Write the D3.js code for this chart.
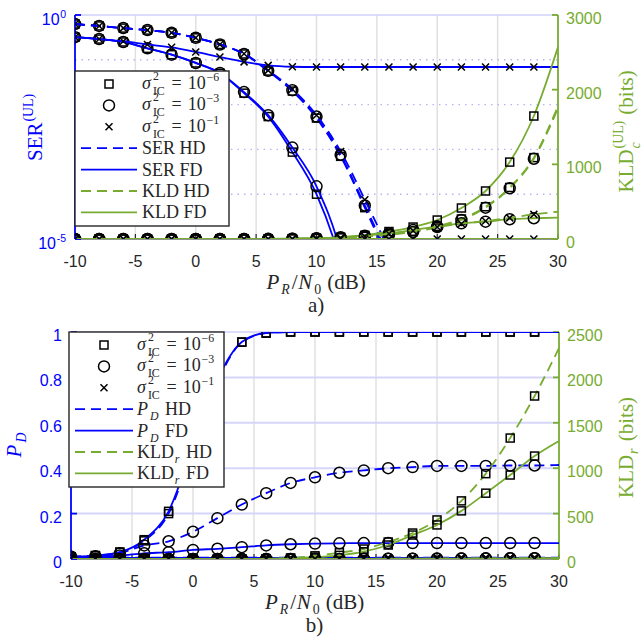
<!DOCTYPE html>
<html>
<head>
<meta charset="utf-8">
<script src="https://cdn.jsdelivr.net/npm/d3@7"></script>
<style>
  body { margin: 0; background: #fff; }
  svg { display: block; }
  text { white-space: pre; }
</style>
</head>
<body>
<svg id="chart" width="642" height="639"></svg>
<script>
// x positions (dB), markers on every point but the last
const snr = [-10, -8, -6, -4, -2, 0, 2, 4, 6, 8, 10, 12, 14, 16, 18, 20, 22, 24, 26, 28, 30];
const xTicks = [-10, -5, 0, 5, 10, 15, 20, 25, 30];

// a) uplink SER (left, log) for sigma_IC^2 = 1e-6 / 1e-3 / 1e-1
const serHD6 = [0.63, 0.57, 0.51, 0.46, 0.40, 0.31, 0.22, 0.135, 0.056, 0.020, 5.0e-3, 7.0e-4, 5.0e-5, 3.0e-6, 1e-7, 1e-8, 1e-8, 1e-8, 1e-8, 1e-8, 1e-8];
const serHD3 = [0.63, 0.57, 0.51, 0.46, 0.40, 0.31, 0.22, 0.135, 0.057, 0.021, 5.4e-3, 7.6e-4, 5.6e-5, 3.6e-6, 1e-7, 1e-8, 1e-8, 1e-8, 1e-8, 1e-8, 1e-8];
const serHD1 = [0.63, 0.57, 0.51, 0.46, 0.40, 0.31, 0.22, 0.137, 0.058, 0.022, 5.8e-3, 9.0e-4, 7.5e-5, 5.0e-6, 1e-7, 1e-8, 1e-8, 1e-8, 1e-8, 1e-8, 1e-8];
const serFD6 = [0.32, 0.29, 0.25, 0.18, 0.13, 0.085, 0.050, 0.018, 5.4e-3, 8.7e-4, 1.0e-4, 3.0e-6, 1e-8, 1e-8, 1e-8, 1e-8, 1e-8, 1e-8, 1e-8, 1e-8, 1e-8];
const serFD3 = [0.32, 0.29, 0.25, 0.18, 0.13, 0.085, 0.051, 0.019, 5.8e-3, 1.1e-3, 1.5e-4, 5.0e-6, 1e-8, 1e-8, 1e-8, 1e-8, 1e-8, 1e-8, 1e-8, 1e-8, 1e-8];
const serFD1 = [0.32, 0.29, 0.26, 0.22, 0.19, 0.15, 0.115, 0.090, 0.075, 0.070, 0.069, 0.069, 0.069, 0.069, 0.069, 0.069, 0.069, 0.069, 0.069, 0.069, 0.069];

// a) KLD_c (right, bits)
const kldHD6 = [0, 0, 0, 0, 0, 0, 0, 0, 0, 3, 8, 15, 35, 62, 100, 168, 268, 432, 690, 1090, 1780];
const kldHD3 = [0, 0, 0, 0, 0, 0, 0, 0, 0, 3, 7, 14, 32, 57, 94, 160, 255, 420, 680, 1075, 1750];
const kldHD1 = [0, 0, 0, 0, 0, 0, 0, 0, 0, 3, 8, 15, 35, 70, 110, 160, 205, 240, 283, 330, 365];
const kldFD6 = [0, 0, 0, 0, 0, 0, 0, 0, 2, 5, 10, 25, 50, 100, 160, 254, 415, 643, 1030, 1647, 2570];
const kldFD3 = [0, 0, 0, 0, 0, 0, 0, 0, 2, 5, 10, 22, 45, 75, 120, 170, 210, 232, 265, 278, 285];
const kldFD1 = [0, 0, 0, 0, 0, 0, 0, 0, 0, 0, 0, 0, 0, 0, 0, 0, 0, 0, 0, 0, 0];

// b) detection probability (left)
const pdHD6 = [0.010, 0.015, 0.030, 0.080, 0.20, 0.49, 0.78, 0.955, 0.995, 1, 1, 1, 1, 1, 1, 1, 1, 1, 1, 1, 1];
const pdFD6 = [0.010, 0.015, 0.030, 0.085, 0.21, 0.50, 0.79, 0.956, 0.996, 1, 1, 1, 1, 1, 1, 1, 1, 1, 1, 1, 1];
const pdHD3 = [0.010, 0.012, 0.025, 0.060, 0.078, 0.12, 0.18, 0.24, 0.29, 0.335, 0.36, 0.38, 0.39, 0.40, 0.405, 0.41, 0.41, 0.41, 0.412, 0.412, 0.414];
const pdFD3 = [0.010, 0.010, 0.015, 0.025, 0.030, 0.040, 0.045, 0.052, 0.060, 0.065, 0.068, 0.069, 0.070, 0.070, 0.070, 0.070, 0.070, 0.070, 0.070, 0.070, 0.070];
const pdHD1 = [0.006, 0.006, 0.006, 0.006, 0.006, 0.006, 0.006, 0.006, 0.006, 0.006, 0.006, 0.006, 0.006, 0.006, 0.006, 0.006, 0.006, 0.006, 0.006, 0.006, 0.006];
const pdFD1 = [0.005, 0.005, 0.005, 0.005, 0.005, 0.005, 0.005, 0.005, 0.005, 0.005, 0.005, 0.005, 0.005, 0.005, 0.005, 0.005, 0.005, 0.005, 0.005, 0.005, 0.005];

// b) KLD_r (right, bits)
const kldrHD6 = [0, 0, 0, 0, 0, 0, 0, 0, 3, 10, 35, 70, 110, 187, 286, 430, 640, 940, 1332, 1795, 2324];
const kldrFD6 = [0, 0, 0, 0, 0, 0, 0, 0, 3, 8, 20, 40, 80, 154, 264, 375, 530, 725, 925, 1134, 1300];
const kldrHD3 = [0, 0, 0, 0, 0, 0, 0, 0, 0, 0, 0, 0, 2, 3, 4, 5, 6, 7, 8, 9, 10];
const kldrFD3 = [0, 0, 0, 0, 0, 0, 0, 0, 0, 0, 0, 0, 1, 2, 3, 4, 5, 6, 7, 8, 9];
const kldrHD1 = [0, 0, 0, 0, 0, 0, 0, 0, 0, 0, 0, 0, 0, 0, 0, 0, 0, 0, 0, 0, 0];
const kldrFD1 = [0, 0, 0, 0, 0, 0, 0, 0, 0, 0, 0, 0, 0, 0, 0, 0, 0, 0, 0, 0, 0];

const BLUE = '#0000ff', GREEN = '#77ac30', INK = '#262626';
const SANS = '"Liberation Sans", Arial, sans-serif';
const SERIF = '"Liberation Serif", "Times New Roman", serif';

const svg = d3.select('#chart');
const defs = svg.append('defs');

// one <text> built from tspans: italic, small (sup/sub), sub stacked under sup
function rich(parent, parts, o) {
  const outer = parent.append('g')
    .attr('transform', o.transform)
    .attr('fill', o.fill || INK)
    .attr('font-family', o.family || SERIF);
  const t = outer.append('text');
  let cx = 0, px = 0;
  parts.forEach(p => {
    const xx = p.stack ? px : cx;
    const ts = t.append('tspan')
      .attr('x', xx)
      .attr('y', p.dy || 0)
      .attr('font-size', p.s ? o.size * 0.66 : o.size)
      .attr('font-style', p.i ? 'italic' : 'normal')
      .text(p.t);
    // italic glyphs lean past their advance, leave them a little room
    const w = ts.node().getComputedTextLength() + (p.i ? 2 : 0.8);
    if (p.stack) cx = Math.max(cx, xx + w);
    else { px = xx; cx = xx + w; }
  });
  const shift = o.anchor === 'middle' ? -cx / 2 : o.anchor === 'end' ? -cx : 0;
  t.attr('transform', `translate(${shift},0)`);
  return outer;
}

function markers(sel, pts, m) {
  const mg = sel.append('g').attr('fill', 'none').attr('stroke', '#000').attr('stroke-width', 1.5);
  if (m === 'sq') {
    mg.selectAll('rect').data(pts).join('rect')
      .attr('x', d => d[0] - 4).attr('y', d => d[1] - 4)
      .attr('width', 8).attr('height', 8);
  } else if (m === 'ci') {
    mg.selectAll('circle').data(pts).join('circle')
      .attr('cx', d => d[0]).attr('cy', d => d[1]).attr('r', 5.5);
  } else {
    mg.selectAll('path').data(pts).join('path')
      .attr('d', d => `M${d[0] - 3.5},${d[1] - 3.5}L${d[0] + 3.5},${d[1] + 3.5}M${d[0] - 3.5},${d[1] + 3.5}L${d[0] + 3.5},${d[1] - 3.5}`);
  }
}

const sigmaLabel = e => [
  { t: 'σ', i: 1 }, { t: '2', s: 1, dy: -9 }, { t: 'IC', s: 1, dy: 6, stack: 1 },
  { t: '\u2004=\u200410' }, { t: e, s: 1, dy: -8 }
];

function panel(cfg) {
  const { x0, x1, y0, y1, yL, yR, id } = cfg;
  const x = d3.scaleLinear().domain([-10, 30]).range([x0, x1]);
  const g = svg.append('g');

  defs.append('clipPath').attr('id', id)
    .append('rect').attr('x', x0).attr('y', y0).attr('width', x1 - x0).attr('height', y1 - y0);

  // grid
  g.selectAll('.vg').data(xTicks.slice(1, -1)).join('line')
    .attr('x1', d => x(d)).attr('x2', d => x(d)).attr('y1', y0).attr('y2', y1)
    .attr('stroke', '#e0e0e0').attr('stroke-width', 1.5);
  g.selectAll('.hg').data(cfg.hGrid).join('line')
    .attr('x1', x0).attr('x2', x1).attr('y1', d => yL(d)).attr('y2', d => yL(d))
    .attr('stroke', cfg.hDotted ? '#b4b4f4' : '#d6d6fb')
    .attr('stroke-width', cfg.hDotted ? 1.4 : 2)
    .attr('stroke-dasharray', cfg.hDotted ? '1.5,5' : null);
  g.append('line').attr('x1', x0).attr('x2', x1).attr('y1', y0).attr('y2', y0)
    .attr('stroke', '#d0d0fb').attr('stroke-width', 1.5);

  // axes
  g.append('line').attr('x1', x0).attr('x2', x1).attr('y1', y1).attr('y2', y1)
    .attr('stroke', INK).attr('stroke-width', 1.2);
  g.selectAll('.xt').data(xTicks).join('line')
    .attr('x1', d => x(d)).attr('x2', d => x(d)).attr('y1', y1).attr('y2', y1 - 5)
    .attr('stroke', INK).attr('stroke-width', 1.2);
  g.selectAll('.xl').data(xTicks).join('text')
    .attr('x', d => x(d)).attr('y', y1 + 28)
    .attr('text-anchor', 'middle').attr('font-family', SANS).attr('font-size', 16)
    .attr('fill', INK).text(d => String(d));

  g.append('line').attr('x1', x0).attr('x2', x0).attr('y1', y0).attr('y2', y1)
    .attr('stroke', BLUE).attr('stroke-width', 1.8);
  g.selectAll('.ylt').data(cfg.lTicks).join('line')
    .attr('x1', x0).attr('x2', x0 + 6).attr('y1', d => yL(d)).attr('y2', d => yL(d))
    .attr('stroke', BLUE).attr('stroke-width', 1.8);
  cfg.lLabels(g, x0);

  g.append('line').attr('x1', x1).attr('x2', x1).attr('y1', y0).attr('y2', y1)
    .attr('stroke', GREEN).attr('stroke-width', 1.8);
  g.selectAll('.yrt').data(cfg.rTicks).join('line')
    .attr('x1', x1).attr('x2', x1 - 6).attr('y1', d => yR(d)).attr('y2', d => yR(d))
    .attr('stroke', GREEN).attr('stroke-width', 1.8);
  g.selectAll('.yrl').data(cfg.rTicks).join('text')
    .attr('x', x1 + 8).attr('y', d => yR(d) + 9)
    .attr('font-family', SANS).attr('font-size', 16).attr('fill', GREEN)
    .text(d => String(d));

  // series
  const lay = g.append('g').attr('clip-path', `url(#${id})`);
  const line = d3.line().curve(d3.curveMonotoneX);
  cfg.series.forEach(s => {
    const ys = s.ax === 'L' ? yL : yR;
    const pts = snr.map((d, i) => [x(d), ys(s.v[i])]);
    lay.append('path').attr('d', line(pts))
      .attr('fill', 'none')
      .attr('stroke', s.ax === 'L' ? BLUE : GREEN)
      .attr('stroke-width', 1.8)
      .attr('stroke-dasharray', s.dash ? '10,6' : null);
    markers(lay, pts.slice(0, -1), s.m);
  });

  // axis titles
  const xc = (x0 + x1) / 2;
  rich(g, [{ t: 'P', i: 1 }, { t: 'R', i: 1, s: 1, dy: 5 }, { t: '/' }, { t: 'N', i: 1 }, { t: '0', s: 1, dy: 5 }, { t: ' (dB)' }],
    { size: 21, anchor: 'middle', transform: `translate(${xc},${y1 + 50})` });
  rich(g, [{ t: cfg.tag }], { size: 21, anchor: 'middle', transform: `translate(${xc},${y1 + 73})` });
  rich(g, cfg.lTitle, { size: 21, anchor: 'middle', fill: BLUE, transform: `translate(${cfg.lTitleX},${cfg.lTitleY}) rotate(-90)` });
  rich(g, cfg.rTitle, { size: 21, anchor: 'middle', fill: GREEN, transform: `translate(${cfg.rTitleX},${cfg.rTitleY}) rotate(-90)` });

  // legend
  const L = cfg.legend;
  const lg = g.append('g');
  lg.append('rect').attr('x', L.x).attr('y', L.y).attr('width', L.w).attr('height', L.h)
    .attr('fill', '#fff').attr('stroke', INK).attr('stroke-width', 1.4);
  const rowY = i => L.y + 13 + i * 21.4;
  ['sq', 'ci', 'x'].forEach((m, i) => {
    markers(lg, [[L.mx, rowY(i)]], m);
    rich(lg, sigmaLabel(['−6', '−3', '−1'][i]), { size: 18, transform: `translate(${L.tx},${rowY(i) + 5})` });
  });
  L.lines.forEach((it, j) => {
    const yy = rowY(j + 3);
    lg.append('line').attr('x1', L.l0).attr('x2', L.l1).attr('y1', yy).attr('y2', yy)
      .attr('stroke', it.c).attr('stroke-width', 1.8)
      .attr('stroke-dasharray', it.dash ? '10,6' : null);
    rich(lg, it.label, { size: 18, transform: `translate(${L.tx},${yy + 6})` });
  });
}

// ---- a) ----
const yTopL = d3.scaleLog().domain([1e-5, 1]).range([239, 15]);
const yTopR = d3.scaleLinear().domain([0, 3000]).range([239, 15]);
panel({
  id: 'clipA', x0: 75, x1: 558, y0: 15, y1: 239, yL: yTopL, yR: yTopR,
  hGrid: [1e-1, 1e-2, 1e-3, 1e-4], hDotted: true,
  lTicks: [1e-5, 1],
  lLabels: (g, x0) => {
    [[1, '0'], [1e-5, '-5']].forEach(([v, e]) => {
      rich(g, [{ t: '10' }, { t: e, s: 1, dy: -7 }],
        { size: 16, family: SANS, fill: BLUE, anchor: 'end', transform: `translate(${x0 - 8},${yTopL(v) + 10})` });
    });
  },
  rTicks: [0, 1000, 2000, 3000],
  tag: 'a)',
  lTitle: [{ t: 'SER' }, { t: '(UL)', s: 1, dy: -9 }], lTitleX: 42, lTitleY: 127,
  rTitle: [{ t: 'KLD' }, { t: '(UL)', s: 1, dy: -10 }, { t: 'c', i: 1, s: 1, dy: 7, stack: 1 }, { t: ' (bits)' }], rTitleX: 633, rTitleY: 131,
  series: [
    { v: serHD6, ax: 'L', dash: true, m: 'sq' },
    { v: serFD6, ax: 'L', dash: false, m: 'sq' },
    { v: serHD3, ax: 'L', dash: true, m: 'ci' },
    { v: serFD3, ax: 'L', dash: false, m: 'ci' },
    { v: serHD1, ax: 'L', dash: true, m: 'x' },
    { v: serFD1, ax: 'L', dash: false, m: 'x' },
    { v: kldHD6, ax: 'R', dash: true, m: 'sq' },
    { v: kldFD6, ax: 'R', dash: false, m: 'sq' },
    { v: kldHD3, ax: 'R', dash: true, m: 'ci' },
    { v: kldFD3, ax: 'R', dash: false, m: 'ci' },
    { v: kldHD1, ax: 'R', dash: true, m: 'x' },
    { v: kldFD1, ax: 'R', dash: false, m: 'x' }
  ],
  legend: {
    x: 75, y: 71, w: 154, h: 155, mx: 109, tx: 142, l0: 81, l1: 137,
    lines: [
      { c: BLUE, dash: true, label: [{ t: 'SER HD' }] },
      { c: BLUE, dash: false, label: [{ t: 'SER FD' }] },
      { c: GREEN, dash: true, label: [{ t: 'KLD HD' }] },
      { c: GREEN, dash: false, label: [{ t: 'KLD FD' }] }
    ]
  }
});

// ---- b) ----
const yBotL = d3.scaleLinear().domain([0, 1]).range([559, 332]);
const yBotR = d3.scaleLinear().domain([0, 2500]).range([559, 332]);
panel({
  id: 'clipB', x0: 71, x1: 559, y0: 332, y1: 559, yL: yBotL, yR: yBotR,
  hGrid: [0.2, 0.4, 0.6, 0.8], hDotted: false,
  lTicks: [0, 0.2, 0.4, 0.6, 0.8, 1],
  lLabels: (g, x0) => {
    g.selectAll('.yll').data([0, 0.2, 0.4, 0.6, 0.8, 1]).join('text')
      .attr('x', x0 - 9).attr('y', d => yBotL(d) + 9)
      .attr('text-anchor', 'end').attr('font-family', SANS).attr('font-size', 16)
      .attr('fill', BLUE).text(d => String(d));
  },
  rTicks: [0, 500, 1000, 1500, 2000, 2500],
  tag: 'b)',
  lTitle: [{ t: 'P', i: 1 }, { t: 'D', i: 1, s: 1, dy: 5 }], lTitleX: 21, lTitleY: 444,
  rTitle: [{ t: 'KLD' }, { t: 'r', i: 1, s: 1, dy: 5 }, { t: ' (bits)' }], rTitleX: 633, rTitleY: 447,
  series: [
    { v: pdHD6, ax: 'L', dash: true, m: 'sq' },
    { v: pdFD6, ax: 'L', dash: false, m: 'sq' },
    { v: pdHD3, ax: 'L', dash: true, m: 'ci' },
    { v: pdFD3, ax: 'L', dash: false, m: 'ci' },
    { v: pdHD1, ax: 'L', dash: true, m: 'x' },
    { v: pdFD1, ax: 'L', dash: false, m: 'x' },
    { v: kldrHD6, ax: 'R', dash: true, m: 'sq' },
    { v: kldrFD6, ax: 'R', dash: false, m: 'sq' },
    { v: kldrHD3, ax: 'R', dash: true, m: 'ci' },
    { v: kldrFD3, ax: 'R', dash: false, m: 'ci' },
    { v: kldrHD1, ax: 'R', dash: true, m: 'x' },
    { v: kldrFD1, ax: 'R', dash: false, m: 'x' }
  ],
  legend: {
    x: 69, y: 332, w: 155, h: 155, mx: 104, tx: 137, l0: 75, l1: 133,
    lines: [
      { c: BLUE, dash: true, label: [{ t: 'P', i: 1 }, { t: 'D', i: 1, s: 1, dy: 5 }, { t: ' HD' }] },
      { c: BLUE, dash: false, label: [{ t: 'P', i: 1 }, { t: 'D', i: 1, s: 1, dy: 5 }, { t: ' FD' }] },
      { c: GREEN, dash: true, label: [{ t: 'KLD' }, { t: 'r', i: 1, s: 1, dy: 5 }, { t: ' HD' }] },
      { c: GREEN, dash: false, label: [{ t: 'KLD' }, { t: 'r', i: 1, s: 1, dy: 5 }, { t: ' FD' }] }
    ]
  }
});
</script>
</body>
</html>
